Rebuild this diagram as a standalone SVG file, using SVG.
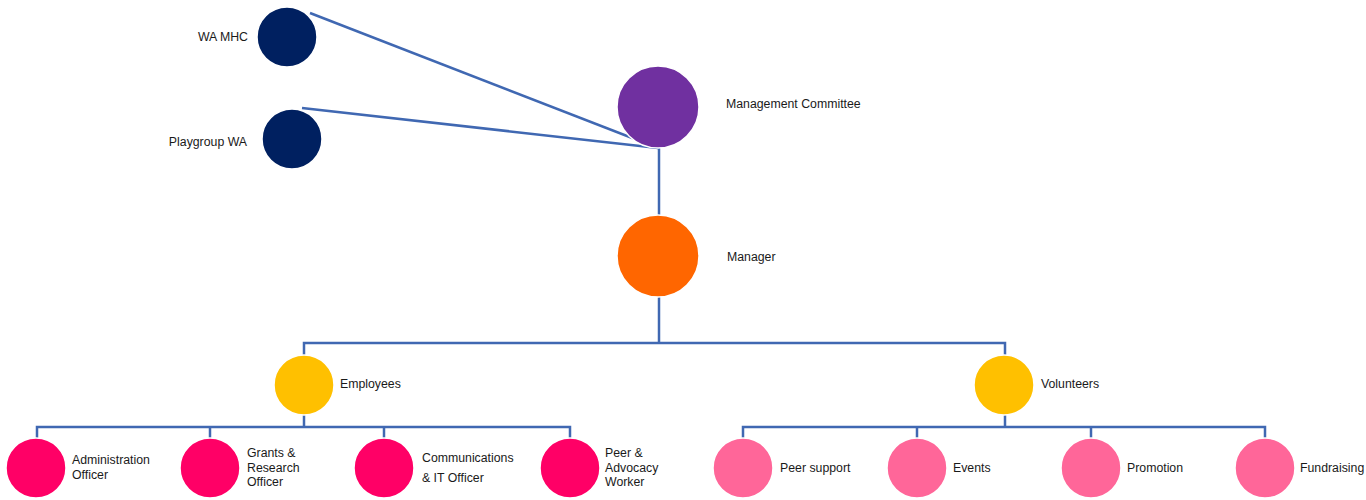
<svg xmlns="http://www.w3.org/2000/svg" width="1366" height="500" viewBox="0 0 1366 500">
<style>
.c{stroke:#fff;stroke-width:1.5}
.ln{fill:none;stroke:#4068B2;stroke-width:2.5}
text{font-family:"Liberation Sans",Arial,sans-serif;font-size:12.3px;fill:#1a1a1a}
</style>
<rect width="1366" height="500" fill="#fff"/>
<g id="connectors">
<line class="ln" x1="310" y1="13" x2="658" y2="148"/>
<line class="ln" x1="302" y1="108" x2="658" y2="148"/>
<line class="ln" x1="659" y1="148" x2="659" y2="216"/>
<polyline class="ln" points="659,296 659,343"/>
<polyline class="ln" points="304,355 304,343 1005,343 1005,355"/>
<polyline class="ln" points="304,415 304,427"/>
<polyline class="ln" points="37,438 37,427 570,427 570,438"/>
<line class="ln" x1="210" y1="427" x2="210" y2="438"/>
<line class="ln" x1="384" y1="427" x2="384" y2="438"/>
<polyline class="ln" points="1005,415 1005,427"/>
<polyline class="ln" points="743,438 743,427 1265,427 1265,438"/>
<line class="ln" x1="917" y1="427" x2="917" y2="438"/>
<line class="ln" x1="1091" y1="427" x2="1091" y2="438"/>
</g>
<g id="wamhc"><circle class="c" cx="287" cy="37" r="30" fill="#002060"/><text x="248" y="41" text-anchor="end">WA MHC</text></g>
<g id="playgroup"><circle class="c" cx="292" cy="139" r="30" fill="#002060"/><text x="247" y="146" text-anchor="end">Playgroup WA</text></g>
<g id="committee"><circle class="c" cx="658" cy="107" r="41" fill="#7030A0"/><text x="726" y="108">Management Committee</text></g>
<g id="manager"><circle class="c" cx="658" cy="256" r="41" fill="#FF6600"/><text x="727" y="261">Manager</text></g>
<g id="employees"><circle class="c" cx="304" cy="385" r="30" fill="#FFC000"/><text x="340" y="388">Employees</text></g>
<g id="volunteers"><circle class="c" cx="1004" cy="385" r="30" fill="#FFC000"/><text x="1041" y="388">Volunteers</text></g>
<g id="admin"><circle class="c" cx="36" cy="468" r="30" fill="#FF0066"/><text x="72" y="464">Administration</text><text x="72" y="479">Officer</text></g>
<g id="grants"><circle class="c" cx="210" cy="468" r="30" fill="#FF0066"/><text x="247" y="457">Grants &amp;</text><text x="247" y="472">Research</text><text x="247" y="486">Officer</text></g>
<g id="comms"><circle class="c" cx="384" cy="468" r="30" fill="#FF0066"/><text x="422" y="462">Communications</text><text x="422" y="482">&amp; IT Officer</text></g>
<g id="peer"><circle class="c" cx="570" cy="468" r="30" fill="#FF0066"/><text x="605" y="457">Peer &amp;</text><text x="605" y="472">Advocacy</text><text x="605" y="486">Worker</text></g>
<g id="peersupport"><circle class="c" cx="743" cy="468" r="30" fill="#FF6699"/><text x="780" y="472">Peer support</text></g>
<g id="events"><circle class="c" cx="917" cy="468" r="30" fill="#FF6699"/><text x="953" y="472">Events</text></g>
<g id="promotion"><circle class="c" cx="1091" cy="468" r="30" fill="#FF6699"/><text x="1127" y="472">Promotion</text></g>
<g id="fundraising"><circle class="c" cx="1265" cy="468" r="30" fill="#FF6699"/><text x="1300" y="472">Fundraising</text></g>
</svg>
